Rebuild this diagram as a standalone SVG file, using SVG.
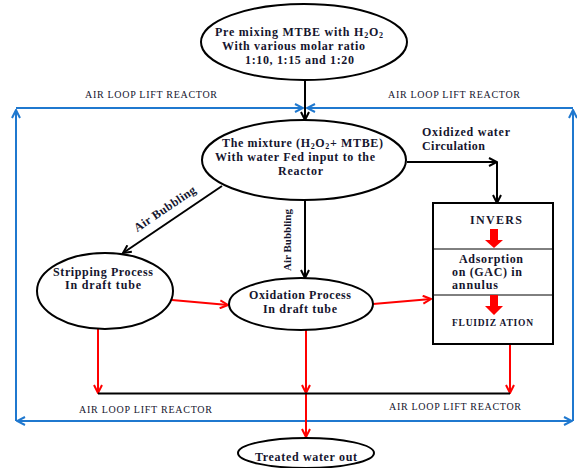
<svg xmlns="http://www.w3.org/2000/svg" width="577" height="468" viewBox="0 0 577 468">
<style>
.nd{fill:#fff;stroke:#000;stroke-width:2}
.t{font-family:"Liberation Serif","Times New Roman",serif;font-weight:bold;font-size:12px;fill:#15152e}
.lbl{font-family:"Liberation Serif","Times New Roman",serif;font-size:10px;fill:#15152e}
.k{fill:none;stroke:#000;stroke-width:2}
.r{fill:none;stroke:#f00;stroke-width:2}
.b{fill:none;stroke:#1f78cf;stroke-width:2}
.sub{font-size:8px}
</style>
<defs>
<marker id="ak" viewBox="0 0 10 10" refX="9" refY="5" markerWidth="10" markerHeight="10" markerUnits="userSpaceOnUse" orient="auto"><path d="M1,1 L9,5 L1,9" fill="none" stroke="#000" stroke-width="2"/></marker>
<marker id="ar" viewBox="0 0 10 10" refX="9" refY="5" markerWidth="10" markerHeight="10" markerUnits="userSpaceOnUse" orient="auto"><path d="M1,1 L9,5 L1,9" fill="none" stroke="#f00" stroke-width="2"/></marker>
<marker id="ab" viewBox="0 0 10 10" refX="9" refY="5" markerWidth="10" markerHeight="10" markerUnits="userSpaceOnUse" orient="auto"><path d="M1,1 L9,5 L1,9" fill="none" stroke="#1f78cf" stroke-width="2"/></marker>
</defs>

<g id="frame">
<path class="b" d="M16,421 L16,110" marker-end="url(#ab)"/>
<path class="b" d="M573,421 L573,110" marker-end="url(#ab)"/>
<path class="b" d="M16,108 L303,108" marker-end="url(#ab)"/>
<path class="b" d="M573,108 L307,108" marker-end="url(#ab)"/>
<path class="b" d="M305,421 L17,421" marker-end="url(#ab)"/>
<path class="b" d="M305,421 L572,421" marker-end="url(#ab)"/>
<text class="lbl" x="85" y="98" textLength="132" lengthAdjust="spacing">AIR LOOP LIFT REACTOR</text>
<text class="lbl" x="388" y="98" textLength="132" lengthAdjust="spacing">AIR LOOP LIFT REACTOR</text>
<text class="lbl" x="79" y="413" textLength="133" lengthAdjust="spacing">AIR LOOP LIFT REACTOR</text>
<text class="lbl" x="389" y="410" textLength="132" lengthAdjust="spacing">AIR LOOP LIFT REACTOR</text>
</g>

<g id="connectors">
<path class="k" d="M305,80 L305,120" marker-end="url(#ak)"/>
<path class="k" d="M407,162 L497,162" marker-end="url(#ak)"/>
<path class="k" d="M497,162 L497,203" marker-end="url(#ak)"/>
<path class="k" d="M222,186 L123,253" marker-end="url(#ak)"/>
<path class="k" d="M305,200 L305,278" marker-end="url(#ak)"/>
<path class="r" d="M172,300 L228,305" marker-end="url(#ar)"/>
<path class="r" d="M373,304 L431,299" marker-end="url(#ar)"/>
<path class="r" d="M98,329 L98,393" marker-end="url(#ar)"/>
<path class="r" d="M510,344 L510,393" marker-end="url(#ar)"/>
<path class="r" d="M306,330 L306,393" marker-end="url(#ar)"/>
<path class="r" d="M306,393 L306,437" marker-end="url(#ar)"/>
<path d="M98,393.5 L510,393.5" stroke="#000" stroke-width="2" fill="none"/>
<text class="t" style="font-size:12px" transform="translate(167,212) rotate(-34)" x="-36" textLength="72" lengthAdjust="spacing">Air Bubbling</text>
<text class="t" style="font-size:11px" transform="translate(291,240) rotate(-90)" text-anchor="middle">Air Bubbling</text>
<text class="t" x="422" y="136" textLength="88" lengthAdjust="spacing">Oxidized  water</text>
<text class="t" x="422" y="150" textLength="63" lengthAdjust="spacing">Circulation</text>
</g>

<g id="premix">
<ellipse class="nd" cx="304" cy="42" rx="103" ry="38"/>
<text class="t" x="215" y="36" textLength="168" lengthAdjust="spacing">Pre  mixing MTBE with H<tspan class="sub" dy="2">2</tspan><tspan dy="-2">O</tspan><tspan class="sub" dy="2">2</tspan></text>
<text class="t" x="222" y="50" textLength="143" lengthAdjust="spacing">With various molar ratio</text>
<text class="t" x="245" y="64" textLength="109" lengthAdjust="spacing">1:10, 1:15 and 1:20</text>
</g>

<g id="mixture">
<ellipse class="nd" cx="304" cy="160" rx="102" ry="40"/>
<text class="t" x="222" y="147" textLength="161" lengthAdjust="spacing">The mixture (H<tspan class="sub" dy="2">2</tspan><tspan dy="-2">O</tspan><tspan class="sub" dy="2">2</tspan><tspan dy="-2">+ MTBE)</tspan></text>
<text class="t" x="215" y="161" textLength="160" lengthAdjust="spacing">With water Fed input to the</text>
<text class="t" x="278" y="175" textLength="45" lengthAdjust="spacing">Reactor</text>
</g>

<g id="stripping">
<ellipse class="nd" cx="105" cy="291" rx="68" ry="38"/>
<text class="t" x="53" y="276" textLength="100" lengthAdjust="spacing">Stripping Process</text>
<text class="t" x="65" y="289" textLength="76" lengthAdjust="spacing">In draft tube</text>
</g>

<g id="oxidation">
<ellipse class="nd" cx="301" cy="304" rx="72" ry="26"/>
<text class="t" x="249" y="299" textLength="102" lengthAdjust="spacing">Oxidation Process</text>
<text class="t" x="263" y="313" textLength="74" lengthAdjust="spacing">In draft tube</text>
</g>

<g id="box">
<rect x="433" y="203" width="120" height="141" fill="#fff" stroke="#000" stroke-width="2"/>
<line x1="433" y1="249" x2="553" y2="249" stroke="#000" stroke-width="1"/>
<line x1="433" y1="295" x2="553" y2="295" stroke="#000" stroke-width="1"/>
<text class="t" x="470" y="224" textLength="52" lengthAdjust="spacing">INVERS</text>
<polygon points="490,229 498,229 498,240 503,240 494,248 485,240 490,240" fill="#f00"/>
<text class="t" x="459" y="263" textLength="64" lengthAdjust="spacing">Adsorption</text>
<text class="t" x="452" y="276" textLength="70" lengthAdjust="spacing">on (GAC) in</text>
<text class="t" x="452" y="289" textLength="46" lengthAdjust="spacing">annulus</text>
<polygon points="490,295 498,295 498,306 503,306 494,315 485,306 490,306" fill="#f00"/>
<text class="t" x="452" y="326" style="font-size:9.5px" textLength="81" lengthAdjust="spacing">FLUIDIZ ATION</text>
</g>

<g id="treated">
<ellipse class="nd" cx="306" cy="453" rx="68" ry="15"/>
<text class="t" x="255" y="461" textLength="102" lengthAdjust="spacing">Treated  water out</text>
</g>
</svg>
